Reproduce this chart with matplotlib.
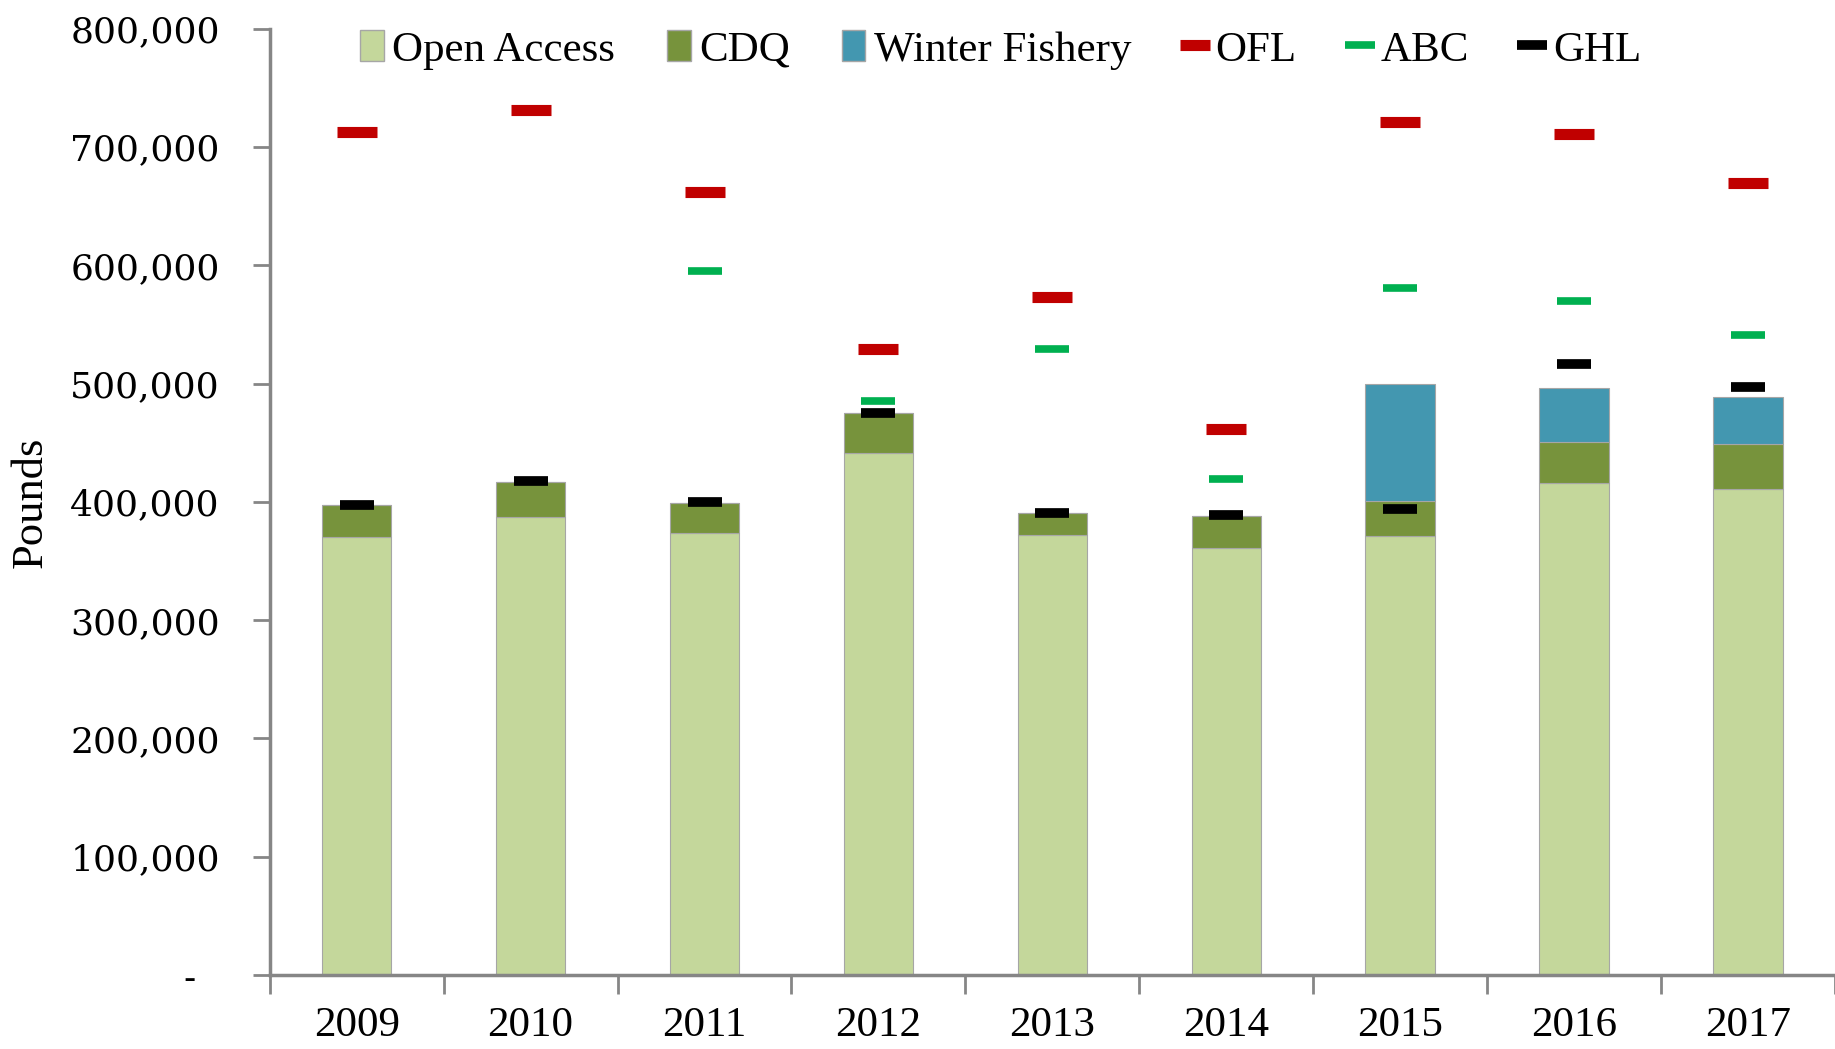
import numpy as np
import matplotlib
matplotlib.use("Agg")
import matplotlib.pyplot as plt
from matplotlib.patches import Patch
from matplotlib.lines import Line2D
from matplotlib.ticker import FuncFormatter

years = ["2009", "2010", "2011", "2012", "2013", "2014", "2015", "2016", "2017"]
open_access = [370000, 387000, 374000, 441000, 372000, 361000, 371000, 416000, 411000]
cdq = [27000, 30000, 25000, 34000, 19000, 27000, 30000, 35000, 38000]
winter = [0, 0, 0, 0, 0, 0, 99000, 45000, 40000]
ofl = [713000, 731000, 662000, 529000, 573000, 462000, 721000, 711000, 670000]
abc = [np.nan, np.nan, 595000, 485000, 529000, 419000, 581000, 570000, 541000]
ghl = [397000, 418000, 400000, 475000, 391000, 389000, 394000, 517000, 497000]

plt.rcParams['font.family'] = ['Liberation Serif', 'DejaVu Serif']

fig = plt.figure(figsize=(18.35, 10.49), dpi=100)
ax = fig.add_axes([0.147, 0.0705, 0.853, 0.902])

x = np.arange(len(years))
w = 0.4
edge = dict(edgecolor="#a6a6a6", linewidth=0.8)
ax.bar(x, open_access, w, color="#C4D79B", **edge, zorder=2)
ax.bar(x, cdq, w, bottom=open_access, color="#77933C", **edge, zorder=2)
bottom2 = np.array(open_access) + np.array(cdq)
ax.bar(x, winter, w, bottom=bottom2, color="#4397B0", **edge, zorder=2)

ax.plot(x, ofl, ls="none", marker="_", ms=29, mew=8, color="#C00000", zorder=3)
ax.plot(x, abc, ls="none", marker="_", ms=25, mew=5.5, color="#00B050", zorder=3)
ax.plot(x, ghl, ls="none", marker="_", ms=25, mew=7, color="black", zorder=4)

ax.set_xlim(-0.5, len(years) - 0.5)
ax.set_ylim(0, 800000)
ax.set_yticks(np.arange(0, 800001, 100000))
ax.yaxis.set_major_formatter(FuncFormatter(lambda v, p: "-  " if v == 0 else f"{int(v):,}"))

ax.set_xticks(np.arange(-0.5, len(years), 1.0))
ax.set_xticklabels([])
ax.set_xticks(x, minor=True)
ax.set_xticklabels(years, minor=True)
ax.tick_params(axis="x", which="major", length=14, width=2, color="#868686", direction="out")
ax.tick_params(axis="x", which="minor", length=0, pad=23, labelsize=31)
ax.tick_params(axis="y", length=12, width=2, color="#868686", labelsize=26, pad=24,
               labelfontfamily="DejaVu Serif")

for s in ["top", "right"]:
    ax.spines[s].set_visible(False)
for s in ["left", "bottom"]:
    ax.spines[s].set_color("#868686")
    ax.spines[s].set_linewidth(2.5)

ax.set_ylabel("Pounds", fontsize=32)
ax.yaxis.set_label_coords(-0.14, 0.5)

handles = [
    Patch(facecolor="#C4D79B", edgecolor="#a6a6a6", label="Open Access"),
    Patch(facecolor="#77933C", edgecolor="#a6a6a6", label="CDQ"),
    Patch(facecolor="#4397B0", edgecolor="#a6a6a6", label="Winter Fishery"),
    Line2D([], [], ls="none", marker="_", ms=22, mew=8, color="#C00000", label="OFL"),
    Line2D([], [], ls="none", marker="_", ms=22, mew=5.5, color="#00B050", label="ABC"),
    Line2D([], [], ls="none", marker="_", ms=22, mew=7, color="black", label="GHL"),
]
ax.legend(handles=handles, loc="upper left", bbox_to_anchor=(0.033, 1.04), ncol=6,
          frameon=False, fontsize=31, handlelength=0.55, handleheight=0.75,
          handletextpad=0.2, columnspacing=1.2)

fig.savefig("out.png", dpi=100)
